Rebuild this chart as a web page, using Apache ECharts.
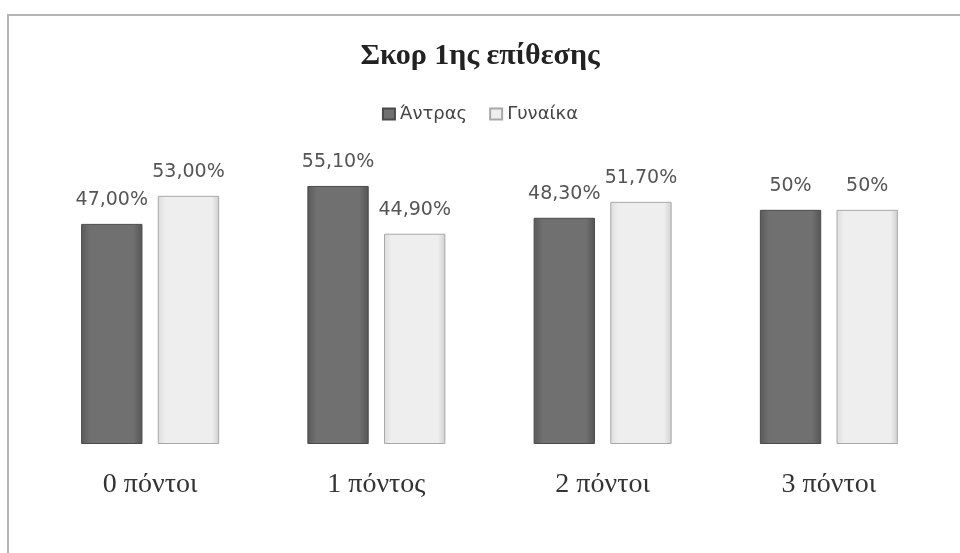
<!DOCTYPE html>
<html>
<head>
<meta charset="utf-8">
<script src="https://cdn.jsdelivr.net/npm/echarts@6/dist/echarts.min.js"></script>
<style>
  html, body { margin: 0; padding: 0; background: #fff; }
  #main { width: 960px; height: 553px; }
</style>
</head>
<body>
<div id="main"></div>
<script>
var categories = ["0 πόντοι", "1 πόντος", "2 πόντοι", "3 πόντοι"];
var menValues = [47.0, 55.1, 48.3, 50];
var womenValues = [53.0, 44.9, 51.7, 50];
var menLabels = ["47,00%", "55,10%", "48,30%", "50%"];
var womenLabels = ["53,00%", "44,90%", "51,70%", "50%"];

var chart = echarts.init(document.getElementById("main"));

var labelStyle = {
  show: true,
  position: "top",
  distance: 14,
  color: "#555",
  fontSize: 19,
  fontFamily: "DejaVu Sans, sans-serif"
};

chart.setOption({
  backgroundColor: "#fff",
  animation: false,
  title: {
    text: "Σκορ 1ης επίθεσης",
    left: "center",
    top: 36,
    textStyle: {
      fontFamily: "Liberation Serif, DejaVu Serif, serif",
      fontWeight: "bold",
      fontSize: 30,
      color: "#222"
    }
  },
  legend: {
    top: 100,
    left: "center",
    itemWidth: 12,
    itemHeight: 11,
    itemGap: 22,
    icon: "rect",
    textStyle: {
      color: "#444",
      fontSize: 18,
      fontFamily: "DejaVu Sans, sans-serif"
    },
    data: ["Άντρας", "Γυναίκα"]
  },
  grid: {
    left: 37,
    right: 18,
    top: 163,
    bottom: 109
  },
  xAxis: {
    type: "category",
    data: categories,
    axisLine: { show: false },
    axisTick: { show: false },
    axisLabel: {
      margin: 27,
      color: "#333",
      fontSize: 28,
      fontFamily: "Liberation Serif, DejaVu Serif, serif"
    }
  },
  yAxis: {
    type: "value",
    min: 0,
    max: 60,
    show: false,
    splitLine: { show: false }
  },
  series: [
    {
      name: "Άντρας",
      type: "bar",
      data: menValues,
      barGap: "25%",
      barCategoryGap: "39%",
      itemStyle: {
        color: new echarts.graphic.LinearGradient(0, 0, 1, 0, [
          { offset: 0, color: "#5a5a5a" },
          { offset: 0.15, color: "#707070" },
          { offset: 0.85, color: "#707070" },
          { offset: 1, color: "#555555" }
        ]),
        borderColor: "#4a4a4a",
        borderWidth: 1
      },
      label: Object.assign({}, labelStyle, {
        formatter: function (p) { return menLabels[p.dataIndex]; }
      })
    },
    {
      name: "Γυναίκα",
      type: "bar",
      data: womenValues,
      itemStyle: {
        color: new echarts.graphic.LinearGradient(0, 0, 1, 0, [
          { offset: 0, color: "#dcdcdc" },
          { offset: 0.12, color: "#eeeeee" },
          { offset: 0.88, color: "#eeeeee" },
          { offset: 1, color: "#cfcfcf" }
        ]),
        borderColor: "#a8a8a8",
        borderWidth: 1
      },
      label: Object.assign({}, labelStyle, {
        formatter: function (p) { return womenLabels[p.dataIndex]; }
      })
    }
  ],
  graphic: [
    {
      type: "polyline",
      shape: { points: [[8, 553], [8, 15], [960, 15]] },
      style: { stroke: "#b4b4b4", lineWidth: 2, fill: null },
      silent: true
    }
  ]
});
</script>
</body>
</html>
